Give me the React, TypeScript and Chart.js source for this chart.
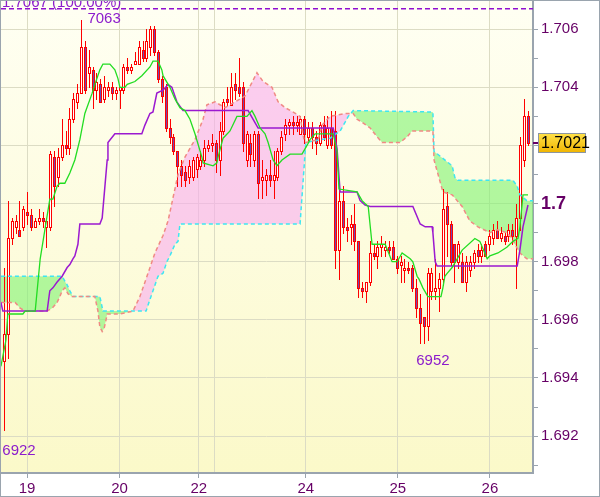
import React, { useEffect, useRef } from "react";
import { Chart, registerables } from "chart.js";

Chart.register(...registerables);

// ---- candle data (hourly bars, index 0..136) ----
const openP = [
  1.6946, 1.6955, 1.6988, 1.6992, 1.6991, 1.6992, 1.6997, 1.6996, 1.6992, 1.6994,
  1.6995, 1.6992, 1.6992, 1.7016, 1.7009, 1.7016, 1.7020, 1.7019, 1.7029, 1.7035,
  1.7038, 1.7054, 1.7045, 1.7046, 1.7039, 1.7041, 1.7036, 1.7039, 1.7040, 1.7038,
  1.7039, 1.7039, 1.7047, 1.7046, 1.7048, 1.7048, 1.7053, 1.7050, 1.7054, 1.7060,
  1.7052, 1.7043, 1.7040, 1.7026, 1.7023, 1.7018, 1.7013, 1.7011, 1.7009, 1.7009,
  1.7012, 1.7013, 1.7015, 1.7019, 1.7020, 1.7021, 1.7015, 1.7025, 1.7036, 1.7034,
  1.7041, 1.7040, 1.7040, 1.7015, 1.7021, 1.7015, 1.7024, 1.7008, 1.7008, 1.7010,
  1.7008, 1.7009, 1.7018, 1.7024, 1.7027, 1.7028, 1.7027, 1.7024, 1.7029, 1.7023,
  1.7026, 1.7023, 1.7021, 1.7027, 1.7020, 1.7026, 1.7025, 1.6984, 1.7001, 1.6992,
  1.6992, 1.6993, 1.6987, 1.6971, 1.6970, 1.6973, 1.6983, 1.6982, 1.6985, 1.6984,
  1.6985, 1.6985, 1.6981, 1.6979, 1.6977, 1.6978, 1.6978, 1.6971, 1.6964, 1.6961,
  1.6958, 1.6970, 1.6970, 1.6971, 1.6974, 1.6999, 1.6993, 1.6986, 1.6980, 1.6980,
  1.6973, 1.6977, 1.6980, 1.6984, 1.6982, 1.6986, 1.6986, 1.6988, 1.6991, 1.6988,
  1.6989, 1.6989, 1.6991, 1.6989, 1.6995, 1.7015, 1.7030,
];
const highP = [
  1.6978, 1.7001, 1.6995, 1.6996, 1.7001, 1.6999, 1.7004, 1.6998, 1.6995, 1.6998,
  1.6997, 1.6995, 1.7018, 1.7018, 1.7019, 1.7029, 1.7025, 1.7033, 1.7038, 1.7041,
  1.7063, 1.7056, 1.7053, 1.7047, 1.7045, 1.7043, 1.7044, 1.7042, 1.7042, 1.7040,
  1.7040, 1.7048, 1.7050, 1.7048, 1.7052, 1.7056, 1.7056, 1.7060, 1.7061, 1.7061,
  1.7053, 1.7044, 1.7041, 1.7029, 1.7024, 1.7018, 1.7015, 1.7013, 1.7015, 1.7016,
  1.7017, 1.7018, 1.7022, 1.7022, 1.7024, 1.7022, 1.7028, 1.7036, 1.7040, 1.7045,
  1.7045, 1.7050, 1.7042, 1.7025, 1.7024, 1.7025, 1.7025, 1.7015, 1.7012, 1.7015,
  1.7018, 1.7019, 1.7025, 1.7029, 1.7029, 1.7030, 1.7030, 1.7030, 1.7030, 1.7028,
  1.7028, 1.7025, 1.7028, 1.7030, 1.7030, 1.7032, 1.7032, 1.7006, 1.7006, 1.6995,
  1.6996, 1.7000, 1.6987, 1.6973, 1.6973, 1.6987, 1.6986, 1.6987, 1.6989, 1.6987,
  1.6987, 1.6987, 1.6982, 1.6982, 1.6981, 1.6980, 1.6979, 1.6974, 1.6969, 1.6961,
  1.6978, 1.6978, 1.6981, 1.6976, 1.7005, 1.7004, 1.6994, 1.6986, 1.6987, 1.6983,
  1.6982, 1.6982, 1.6984, 1.6986, 1.6986, 1.6987, 1.6991, 1.6993, 1.6994, 1.6992,
  1.6990, 1.6993, 1.6993, 1.7000, 1.7023, 1.7036, 1.7032,
];
const lowP = [
  1.6922, 1.6947, 1.6986, 1.6990, 1.6989, 1.6991, 1.6993, 1.6991, 1.6992, 1.6993,
  1.6992, 1.6985, 1.6991, 1.6999, 1.7006, 1.7015, 1.7017, 1.7017, 1.7028, 1.7033,
  1.7038, 1.7038, 1.7040, 1.7033, 1.7036, 1.7035, 1.7035, 1.7037, 1.7036, 1.7036,
  1.7033, 1.7038, 1.7045, 1.7045, 1.7048, 1.7048, 1.7049, 1.7049, 1.7051, 1.7051,
  1.7042, 1.7035, 1.7025, 1.7021, 1.7017, 1.7006, 1.7006, 1.7006, 1.7007, 1.7008,
  1.7009, 1.7012, 1.7013, 1.7018, 1.7018, 1.7011, 1.7010, 1.7024, 1.7034, 1.7034,
  1.7036, 1.7037, 1.7018, 1.7013, 1.7013, 1.7013, 1.7002, 1.7002, 1.7003, 1.7006,
  1.7002, 1.7008, 1.7017, 1.7022, 1.7024, 1.7024, 1.7025, 1.7024, 1.7021, 1.7022,
  1.7019, 1.7017, 1.7020, 1.7022, 1.7019, 1.7019, 1.6978, 1.6974, 1.6990, 1.6987,
  1.6986, 1.6984, 1.6968, 1.6968, 1.6966, 1.6972, 1.6981, 1.6978, 1.6982, 1.6982,
  1.6983, 1.6981, 1.6976, 1.6973, 1.6973, 1.6976, 1.6970, 1.6961, 1.6952, 1.6952,
  1.6953, 1.6967, 1.6967, 1.6963, 1.6972, 1.6982, 1.6979, 1.6973, 1.6978, 1.6973,
  1.6970, 1.6975, 1.6978, 1.6980, 1.6980, 1.6982, 1.6984, 1.6986, 1.6988, 1.6987,
  1.6986, 1.6987, 1.6986, 1.6971, 1.6991, 1.7013, 1.7020,
];
const closeP = [
  1.6955, 1.6988, 1.6994, 1.6994, 1.6989, 1.6998, 1.6996, 1.6992, 1.6994, 1.6995,
  1.6994, 1.6994, 1.7017, 1.7006, 1.7016, 1.7020, 1.7019, 1.7029, 1.7036, 1.7038,
  1.7054, 1.7039, 1.7047, 1.7039, 1.7042, 1.7035, 1.7040, 1.7040, 1.7038, 1.7039,
  1.7040, 1.7047, 1.7046, 1.7047, 1.7049, 1.7054, 1.7050, 1.7056, 1.7060, 1.7052,
  1.7043, 1.7037, 1.7026, 1.7023, 1.7018, 1.7013, 1.7010, 1.7008, 1.7013, 1.7015,
  1.7016, 1.7015, 1.7019, 1.7020, 1.7021, 1.7015, 1.7025, 1.7035, 1.7035, 1.7040,
  1.7039, 1.7038, 1.7021, 1.7024, 1.7017, 1.7024, 1.7007, 1.7009, 1.7010, 1.7008,
  1.7010, 1.7018, 1.7023, 1.7027, 1.7028, 1.7027, 1.7028, 1.7029, 1.7024, 1.7026,
  1.7023, 1.7021, 1.7027, 1.7023, 1.7026, 1.7020, 1.6984, 1.7001, 1.6992, 1.6991,
  1.6993, 1.6987, 1.6971, 1.6970, 1.6973, 1.6983, 1.6982, 1.6985, 1.6986, 1.6985,
  1.6984, 1.6981, 1.6978, 1.6980, 1.6978, 1.6977, 1.6971, 1.6964, 1.6959, 1.6958,
  1.6976, 1.6976, 1.6971, 1.6974, 1.6998, 1.6993, 1.6980, 1.6980, 1.6986, 1.6973,
  1.6980, 1.6980, 1.6983, 1.6982, 1.6984, 1.6982, 1.6989, 1.6991, 1.6988, 1.6990,
  1.6987, 1.6991, 1.6989, 1.6995, 1.7020, 1.7030, 1.7021,
];

// ---- indicator lines: [bar index, price] vertices ----
const tenkan: [number, number][] = [
  [-0.8, 1.6944], [0.5, 1.6953], [1.0, 1.6962], [4.9, 1.6962], [5.5, 1.6963], [8.1, 1.6963],
  [9.4, 1.6981], [11.9, 1.70015], [12.7, 1.70015], [13.8, 1.7006], [14.5, 1.7007], [15.8, 1.7007],
  [17.1, 1.70105], [18.4, 1.7015], [19.7, 1.7022], [21.0, 1.7031], [22.9, 1.7038], [23.6, 1.7041],
  [24.9, 1.7046], [25.7, 1.7048], [27.5, 1.7048], [28.8, 1.7046], [29.6, 1.7043], [30.1, 1.704],
  [31.4, 1.704], [32.0, 1.7041], [34.0, 1.7042], [35.8, 1.7044], [37.9, 1.7047], [38.7, 1.7049],
  [40.0, 1.7049], [41.0, 1.7046], [41.3, 1.7044], [43.1, 1.704], [44.4, 1.7036], [45.7, 1.7033],
  [47.0, 1.7032], [48.3, 1.7029], [49.6, 1.7024], [51.4, 1.7016], [51.7, 1.7014], [54.3, 1.7013],
  [55.3, 1.7014], [55.6, 1.7016], [56.9, 1.70225], [58.7, 1.7025], [60.5, 1.703], [63.1, 1.703],
  [64.4, 1.7032], [65.2, 1.703], [66.5, 1.7026], [67.8, 1.7024], [68.6, 1.7021], [69.9, 1.7015],
  [70.9, 1.7013], [72.2, 1.7015], [74.3, 1.7017], [77.4, 1.7017], [78.7, 1.702], [79.5, 1.7022],
  [80.8, 1.7024], [85.5, 1.7024], [86.5, 1.7018], [87.0, 1.7005], [91.7, 1.7004], [93.0, 1.7001],
  [94.6, 1.6999], [95.6, 1.6986], [99.0, 1.6986], [100.8, 1.698], [102.1, 1.698], [103.4, 1.6983],
  [105.5, 1.6981], [106.2, 1.698], [107.3, 1.6975], [107.8, 1.6974], [108.8, 1.6971], [110.1, 1.6968],
  [113.5, 1.6968], [114.0, 1.6971], [114.5, 1.6975], [115.1, 1.6976], [116.4, 1.6978], [119.0, 1.6984],
  [122.3, 1.6988], [123.6, 1.6987], [125.5, 1.6981], [126.2, 1.6982], [128.3, 1.6983], [130.6, 1.6985],
  [132.2, 1.6987], [133.5, 1.6988], [134.0, 1.6992], [134.8, 1.7003], [136.1, 1.7003],
];
const kijun: [number, number][] = [
  [-0.8, 1.6966], [-0.3, 1.6963], [11.2, 1.6963], [11.9, 1.697], [12.7, 1.6971], [13.8, 1.6973],
  [15.1, 1.6975], [16.4, 1.6978], [17.1, 1.6979], [17.9, 1.6981], [18.4, 1.6982], [19.2, 1.6986],
  [19.7, 1.6993], [24.9, 1.6993], [25.5, 1.6995], [26.8, 1.7015], [27.0, 1.7021], [28.8, 1.7024],
  [35.8, 1.7024], [36.6, 1.7027], [37.9, 1.7031], [38.7, 1.70315], [39.7, 1.7038], [41.3, 1.7039],
  [42.6, 1.7041], [43.6, 1.704], [44.9, 1.7035], [46.5, 1.7032], [63.4, 1.7032], [66.0, 1.7026],
  [85.5, 1.7026], [86.5, 1.7019], [87.3, 1.7004], [91.7, 1.7004], [92.5, 1.7001], [93.8, 1.69995],
  [95.1, 1.6999], [106.2, 1.6999], [108.1, 1.6993], [109.4, 1.6992], [111.2, 1.6992], [111.4, 1.699],
  [112.0, 1.698], [112.5, 1.69785], [133.3, 1.69785], [134.0, 1.6984], [134.8, 1.6992], [136.1, 1.69995],
];
const spanCyan: [number, number][] = [
  [-0.8, 1.6975], [15.1, 1.6975], [16.4, 1.6972], [17.1, 1.697], [17.9, 1.6968], [24.9, 1.6968],
  [25.7, 1.6963], [36.9, 1.6963], [37.9, 1.6967], [38.7, 1.697], [40.0, 1.6975], [41.3, 1.6976],
  [42.3, 1.698], [43.1, 1.6982], [44.4, 1.6986], [45.2, 1.6987], [45.7, 1.6993], [76.9, 1.6993],
  [77.7, 1.7008], [78.4, 1.7021], [82.1, 1.7022], [84.7, 1.70225], [87.3, 1.7025], [88.6, 1.7028],
  [89.4, 1.703], [90.7, 1.7032], [111.4, 1.70315], [111.7, 1.7018], [116.4, 1.7013], [117.1, 1.7009],
  [117.9, 1.7008], [132.2, 1.7008], [133.3, 1.7006], [134.0, 1.7003], [135.8, 1.7001], [137.4, 1.7001],
];
const spanSalmon: [number, number][] = [
  [-0.8, 1.6966], [2.9, 1.6966], [4.2, 1.6964], [5.5, 1.6963], [11.2, 1.6963], [12.5, 1.6964],
  [13.8, 1.6966], [14.5, 1.6968], [15.1, 1.697], [15.8, 1.6971], [16.6, 1.6969], [17.7, 1.6968],
  [23.6, 1.6968], [24.4, 1.6963], [24.9, 1.69575], [25.5, 1.6956], [26.0, 1.6957], [26.5, 1.696],
  [26.8, 1.6962], [30.1, 1.6962], [33.5, 1.6963], [35.3, 1.6968], [37.4, 1.6976], [39.2, 1.6983],
  [41.3, 1.6989], [42.6, 1.6994], [43.9, 1.7002], [45.2, 1.701], [47.0, 1.7016], [49.6, 1.7022],
  [51.7, 1.7029], [52.7, 1.7034], [54.8, 1.7035], [57.4, 1.7033], [60.0, 1.7035], [62.6, 1.7037],
  [65.7, 1.7045], [67.3, 1.7042], [69.6, 1.704], [71.2, 1.7035], [73.0, 1.7033], [75.1, 1.70315],
  [76.9, 1.703], [77.9, 1.7022], [78.4, 1.7021], [81.6, 1.7022], [82.6, 1.7027], [84.7, 1.703],
  [88.6, 1.7031], [90.7, 1.7031], [91.7, 1.7029], [93.0, 1.7028], [95.1, 1.7026], [96.9, 1.7023],
  [98.2, 1.7021], [102.9, 1.7021], [104.7, 1.7023], [106.0, 1.7025], [111.4, 1.7025], [111.7, 1.7015],
  [114.0, 1.7004], [116.4, 1.7003], [119.0, 1.6999], [121.0, 1.6994], [123.1, 1.6992], [126.2, 1.699],
  [128.1, 1.6991], [130.6, 1.699], [132.0, 1.6988], [132.7, 1.6986], [134.0, 1.6983], [135.8, 1.6981],
  [137.4, 1.6981],
];

// ---- axes / labels ----
const xTickIndex = [6, 30, 50.6, 54.6, 78.4, 102.3, 126.2];
const xTickLabels = ["19", "20", "22", "", "24", "25", "26"];
const yTickValues = [1.691, 1.692, 1.693, 1.694, 1.695, 1.696, 1.697, 1.698, 1.699, 1.7, 1.701, 1.702, 1.703, 1.704, 1.705, 1.706];
const yTickLabels = ["", "1.692", "", "1.694", "", "1.696", "", "1.698", "", "1.7", "", "1.702", "", "1.704", "", "1.706"];
const peakLevel = 1.7067;
const peakLabel = "1.7067 (100.00%)";
const extremeLabels = ["7063", "6952", "6922"];
const extremeIndex = [26, 111.4, 3.9];
const extremeValue = [1.7063, 1.6952, 1.6922];
const extremeDy = [3, 22, 25];
const lastPriceLabel = "1.7021";

const X_MIN = -0.78;
const X_MAX = 137.4;
const Y_MIN = 1.69073;
const Y_MAX = 1.70697;

const FONT = "'Liberation Sans Narrow', 'Liberation Sans', Arial, sans-serif";
const AXIS = "#9aa4ae";
const GRID = "#dcdcc4";
const LABEL = "#660066";
const RED = "#ff0000";
const BEAR_FILL = "#7048b4";
const VIOLET = "#8c1ccc";
const CLEAR = "rgba(0,0,0,0)";

const bgPlugin = {
  id: "bg",
  beforeDraw(chart: any) {
    const { ctx, chartArea: a, width, height } = chart;
    ctx.save();
    ctx.fillStyle = "#ffffff";
    ctx.fillRect(0, 0, width, height);
    const g = ctx.createLinearGradient(0, a.top, 0, a.bottom);
    g.addColorStop(0, "#fffff3");
    g.addColorStop(1, "#fbf9c9");
    ctx.fillStyle = g;
    ctx.fillRect(a.left, a.top, a.right - a.left, a.bottom - a.top);
    ctx.restore();
  },
};

const candlePlugin = {
  id: "candles",
  beforeDatasetsDraw(chart: any) {
    const { ctx, chartArea: a } = chart;
    const xs = chart.scales.x;
    const ys = chart.scales.y;
    ctx.save();
    ctx.beginPath();
    ctx.rect(a.left, a.top, a.right - a.left, a.bottom - a.top);
    ctx.clip();
    ctx.lineWidth = 1;
    ctx.strokeStyle = RED;
    for (let i = 0; i < openP.length; i++) {
      const cx = Math.round(xs.getPixelForValue(i));
      const yH = Math.round(ys.getPixelForValue(highP[i]));
      const yL = Math.round(ys.getPixelForValue(lowP[i]));
      const yO = Math.round(ys.getPixelForValue(openP[i]));
      const yC = Math.round(ys.getPixelForValue(closeP[i]));
      ctx.beginPath();
      ctx.moveTo(cx + 0.5, yH);
      ctx.lineTo(cx + 0.5, yL + 1);
      ctx.stroke();
      const top = Math.min(yO, yC);
      const bot = Math.max(yO, yC);
      ctx.fillStyle = closeP[i] >= openP[i] ? "#ffffff" : BEAR_FILL;
      ctx.fillRect(cx - 1, top, 3, bot - top + 1);
      ctx.strokeRect(cx - 0.5, top + 0.5, 2, Math.max(bot - top, 0));
    }
    ctx.restore();
  },
};

const overlayPlugin = {
  id: "overlay",
  afterDraw(chart: any) {
    const { ctx, chartArea: a, width, height } = chart;
    const xs = chart.scales.x;
    const ys = chart.scales.y;
    ctx.save();
    // peak label
    ctx.font = `15px ${FONT}`;
    ctx.fillStyle = VIOLET;
    ctx.textAlign = "left";
    ctx.textBaseline = "alphabetic";
    ctx.fillText(peakLabel, a.left + 1, ys.getPixelForValue(peakLevel) - 1.5);
    // extreme labels
    ctx.textAlign = "center";
    for (let k = 0; k < extremeLabels.length; k++) {
      ctx.fillText(
        extremeLabels[k],
        xs.getPixelForValue(extremeIndex[k]),
        ys.getPixelForValue(extremeValue[k]) + extremeDy[k]
      );
    }
    // last price marker
    const yp = Math.round(ys.getPixelForValue(closeP[closeP.length - 1]));
    ctx.strokeStyle = LABEL;
    ctx.lineWidth = 2;
    ctx.beginPath();
    ctx.moveTo(a.right, yp);
    ctx.lineTo(a.right + 6, yp);
    ctx.stroke();
    const bx = a.right + 5;
    const by = yp - 10;
    const bw = 48;
    const bh = 20;
    const g = ctx.createLinearGradient(0, by, 0, by + bh);
    g.addColorStop(0, "#ffe24a");
    g.addColorStop(1, "#f0b400");
    ctx.fillStyle = g;
    ctx.fillRect(bx, by, bw, bh);
    ctx.strokeStyle = "#8c96a0";
    ctx.lineWidth = 1;
    ctx.strokeRect(bx + 0.5, by + 0.5, bw - 1, bh - 1);
    ctx.fillStyle = "#000000";
    ctx.font = `16px ${FONT}`;
    ctx.textAlign = "left";
    ctx.textBaseline = "middle";
    ctx.fillText(lastPriceLabel, bx + 3, yp + 1);
    // outer frame
    ctx.strokeStyle = AXIS;
    ctx.lineWidth = 1;
    ctx.strokeRect(0.5, 0.5, width - 1, height - 1);
    ctx.restore();
  },
};

const toPts = (arr: [number, number][]) => arr.map(([x, y]) => ({ x, y }));

export default function App() {
  const ref = useRef<HTMLCanvasElement | null>(null);
  useEffect(() => {
    document.body.style.margin = "0";
    const canvas = ref.current;
    if (!canvas) return;
    const chart = new Chart(canvas, {
      type: "line",
      data: {
        datasets: [
          {
            label: "spanCyan",
            data: toPts(spanCyan),
            borderColor: "#3ee6f2",
            borderWidth: 1.5,
            borderDash: [4, 3],
            pointRadius: 0,
            fill: false,
            order: 4,
          },
          {
            label: "spanSalmon",
            data: toPts(spanSalmon),
            borderColor: "#f08a84",
            borderWidth: 1.5,
            borderDash: [4, 3],
            pointRadius: 0,
            fill: { target: 0, above: "rgba(249,171,240,0.6)", below: "rgba(127,244,113,0.6)" },
            order: 3,
          },
          {
            label: "kijun",
            data: toPts(kijun),
            borderColor: "#9b19d0",
            borderWidth: 1.5,
            pointRadius: 0,
            fill: false,
            order: 2,
          },
          {
            label: "tenkan",
            data: toPts(tenkan),
            borderColor: "#22dd22",
            borderWidth: 1.3,
            pointRadius: 0,
            fill: false,
            order: 1,
          },
          {
            label: "peak",
            data: [
              { x: X_MIN, y: peakLevel },
              { x: X_MAX, y: peakLevel },
            ],
            borderColor: "#9010d0",
            borderWidth: 1.5,
            borderDash: [5, 3],
            pointRadius: 0,
            fill: false,
            order: 0,
          },
        ],
      },
      options: {
        responsive: false,
        animation: false,
        devicePixelRatio: 1,
        events: [],
        layout: { padding: { left: 1, top: 1, right: 0, bottom: 0 } },
        elements: { line: { tension: 0 } },
        plugins: {
          legend: { display: false },
          tooltip: { enabled: false },
          filler: { drawTime: "beforeDatasetsDraw", propagate: false },
        },
        scales: {
          x: {
            type: "linear",
            min: X_MIN,
            max: X_MAX,
            bounds: "data",
            offset: false,
            afterBuildTicks: (s: any) => {
              s.ticks = xTickIndex.map((v) => ({ value: v }));
            },
            afterFit: (s: any) => {
              s.height = 24;
              s.paddingLeft = 0;
              s.paddingRight = 0;
              s.paddingTop = 0;
              s.paddingBottom = 0;
            },
            grid: {
              color: GRID,
              lineWidth: 1,
              tickLength: 5,
              tickColor: (c: any) => (xTickLabels[c.index] ? AXIS : CLEAR),
            },
            border: { color: AXIS, width: 2 },
            ticks: {
              autoSkip: false,
              maxRotation: 0,
              minRotation: 0,
              padding: 2,
              color: LABEL,
              font: { family: FONT, size: 15 },
              callback: (_v: any, i: number) => xTickLabels[i] ?? "",
            },
          },
          y: {
            type: "linear",
            position: "right",
            min: Y_MIN,
            max: Y_MAX,
            bounds: "data",
            afterBuildTicks: (s: any) => {
              s.ticks = yTickValues.map((v) => ({ value: v }));
            },
            afterFit: (s: any) => {
              s.width = 67;
              s.paddingLeft = 0;
              s.paddingRight = 0;
              s.paddingTop = 0;
              s.paddingBottom = 0;
            },
            grid: {
              color: (c: any) => (yTickLabels[c.index] ? GRID : CLEAR),
              lineWidth: 1,
              tickLength: 5,
              tickColor: AXIS,
            },
            border: { color: AXIS, width: 2 },
            ticks: {
              autoSkip: false,
              padding: 3,
              color: LABEL,
              font: (c: any) =>
                c.tick && c.tick.value === 1.7
                  ? { family: FONT, size: 18, weight: "bold" }
                  : { family: FONT, size: 15 },
              callback: (_v: any, i: number) => yTickLabels[i] ?? "",
            },
          },
        },
      },
      plugins: [bgPlugin, candlePlugin, overlayPlugin],
    } as any);
    return () => chart.destroy();
  }, []);
  return (
    <canvas
      ref={ref}
      width={600}
      height={497}
      style={{ display: "block", width: 600, height: 497 }}
    />
  );
}
